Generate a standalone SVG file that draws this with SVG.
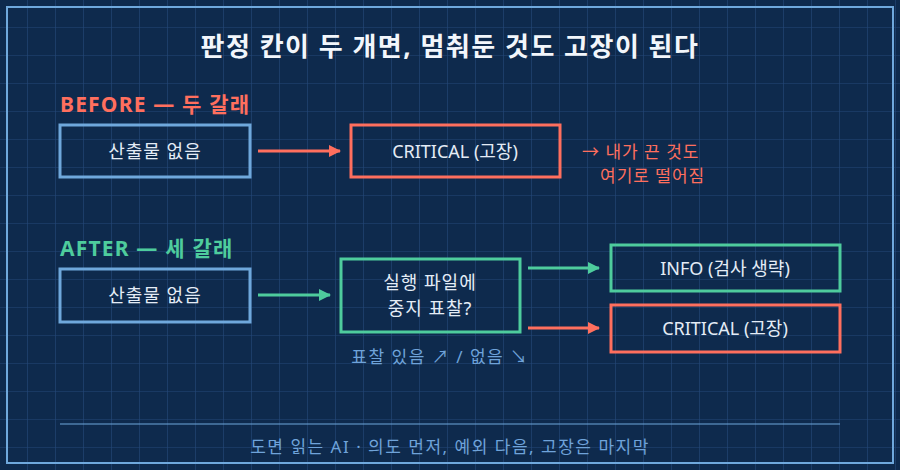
<svg xmlns="http://www.w3.org/2000/svg" width="900" height="470" viewBox="0 0 900 470">
<defs>
<pattern id="grid" width="28" height="28" patternUnits="userSpaceOnUse">
<path d="M28 0V28M0 28H28" fill="none" stroke="#24487a" stroke-width="1.2"/>
</pattern>
<marker id="ag" viewBox="0 0 12 12" refX="11" refY="6" markerWidth="12" markerHeight="12" markerUnits="userSpaceOnUse" orient="auto"><path d="M0 0L12 6L0 12Z" fill="#4ecc9d"/></marker>
<marker id="ar" viewBox="0 0 12 12" refX="11" refY="6" markerWidth="12" markerHeight="12" markerUnits="userSpaceOnUse" orient="auto"><path d="M0 0L12 6L0 12Z" fill="#ff6f5e"/></marker>
</defs>
<style>
text{font-family:"Noto Sans","Noto Sans CJK KR",sans-serif}
.box{fill:none;stroke-width:3}
.blue{stroke:#6fa8dc}
.green{stroke:#4ecc9d}
.red{stroke:#ff6f5e}
.lbl{font-size:18px;fill:#e4ecf6;text-anchor:middle}
.ko{letter-spacing:1px}
.g{stroke:#4ecc9d;stroke-width:3;fill:none}
.r{stroke:#ff6f5e;stroke-width:3;fill:none}
</style>
<rect width="900" height="470" fill="#0e2a4d"/>
<rect width="900" height="470" fill="url(#grid)" x="0" y="0"/>
<rect x="7" y="7" width="886" height="456" fill="none" stroke="#6fa8dc" stroke-width="2"/>
<text x="450" y="56" text-anchor="middle" font-size="26" font-weight="bold" letter-spacing="1.5" fill="#f2f6fb">판정 칸이 두 개면, 멈춰둔 것도 고장이 된다</text>
<text x="60" y="112" font-size="21" font-weight="bold" letter-spacing="1.2" fill="#ff6f5e">BEFORE — 두 갈래</text>
<text x="60" y="256" font-size="21" font-weight="bold" letter-spacing="1.2" fill="#4ecc9d">AFTER — 세 갈래</text>
<g id="before-none"><rect class="box blue" x="60" y="125" width="190" height="52"/><text class="lbl ko" x="155" y="158">산출물 없음</text></g>
<g id="before-critical"><rect class="box red" x="351" y="125" width="209" height="52"/><text class="lbl" x="455" y="158">CRITICAL (고장)</text></g>
<g id="before-note"><text x="582" y="158" font-size="17" letter-spacing="1" fill="#ff6f5e">→ 내가 끈 것도</text><text x="600" y="182" font-size="17" letter-spacing="1" fill="#ff6f5e">여기로 떨어짐</text></g>
<g id="after-none"><rect class="box blue" x="60" y="269" width="190" height="53"/><text class="lbl ko" x="155" y="302">산출물 없음</text></g>
<g id="after-decision"><rect class="box green" x="341" y="259" width="179" height="73"/><text class="lbl ko" x="430" y="289">실행 파일에</text><text class="lbl ko" x="430" y="315">중지 표찰?</text></g>
<g id="after-info"><rect class="box green" x="611" y="245" width="229" height="46"/><text class="lbl" x="725" y="275">INFO (검사 생략)</text></g>
<g id="after-critical"><rect class="box red" x="611" y="305" width="229" height="47"/><text class="lbl" x="725" y="335">CRITICAL (고장)</text></g>
<text x="440" y="363" text-anchor="middle" font-size="17" letter-spacing="1.5" fill="#6fa3da">표찰 있음 ↗ / 없음 ↘</text>
<g id="connectors">
<path class="r" d="M258 151H340" marker-end="url(#ar)"/>
<path class="g" d="M258 295H330" marker-end="url(#ag)"/>
<path class="g" d="M528 268H599" marker-end="url(#ag)"/>
<path class="r" d="M528 328H599" marker-end="url(#ar)"/>
</g>
<line x1="60" y1="424" x2="840" y2="424" stroke="#6fa8dc" stroke-width="1.2"/>
<text x="450" y="453" text-anchor="middle" font-size="17" letter-spacing="1.5" fill="#6fa3da">도면 읽는 AI · 의도 먼저, 예외 다음, 고장은 마지막</text>
</svg>
